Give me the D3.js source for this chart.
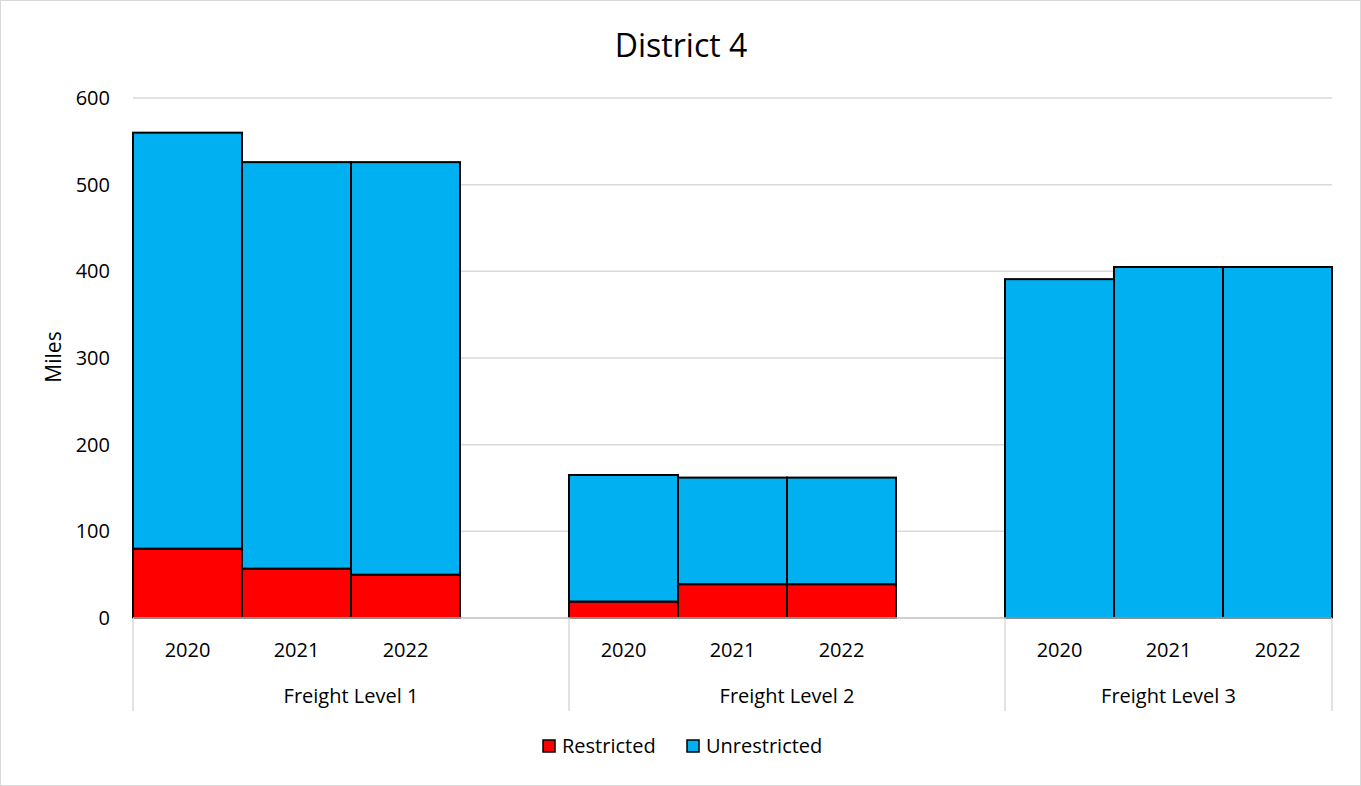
<!DOCTYPE html>
<html>
<head>
<meta charset="utf-8">
<script src="https://cdn.jsdelivr.net/npm/d3@7"></script>
<style>
  body { margin: 0; background: #fff; }
  text { font-family: "Open Sans", Lato, sans-serif; fill: #000; }
</style>
</head>
<body>
<svg width="1361" height="786"></svg>
<script>
const groups = ['Freight Level 1', 'Freight Level 2', 'Freight Level 3'];
const years = ['2020', '2021', '2022'];
const restricted = [[80, 57, 50], [19, 39, 39], [0, 0, 0]];
const unrestricted = [[480, 469, 476], [146, 123, 123], [391, 405, 405]];
const yTicks = [0, 100, 200, 300, 400, 500, 600];
const seriesNames = ['Restricted', 'Unrestricted'];
const colors = ['#ff0000', '#00b0f0'];

const svg = d3.select('svg');
const width = +svg.attr('width');
const height = +svg.attr('height');

svg.append('rect')
    .attr('x', 0.5).attr('y', 0.5)
    .attr('width', width - 1).attr('height', height - 1)
    .attr('fill', '#fff')
    .attr('stroke', '#d9d9d9');

const plotLeft = 133, plotRight = 1332, plotTop = 98, plotBottom = 618;

// slots: three years per group, plus a blank slot between groups
const slots = [];
groups.forEach((g, gi) => {
  years.forEach(yr => slots.push(g + '|' + yr));
  if (gi < groups.length - 1) slots.push(g + '|blank');
});

const x = d3.scaleBand().domain(slots).range([plotLeft, plotRight]).padding(0);
const y = d3.scaleLinear().domain([0, 600]).range([plotBottom, plotTop]);

// gridlines
svg.append('g')
  .selectAll('line')
  .data(yTicks.slice(1))
  .join('line')
    .attr('x1', plotLeft).attr('x2', plotRight)
    .attr('y1', d => y(d)).attr('y2', d => y(d))
    .attr('stroke', '#d9d9d9').attr('stroke-width', 1.5);

// y tick labels
svg.append('g')
  .selectAll('text')
  .data(yTicks)
  .join('text')
    .attr('x', 110)
    .attr('y', d => y(d))
    .attr('dy', '0.35em')
    .attr('text-anchor', 'end')
    .attr('font-size', 20)
    .text(d => d);

// stacked bars
const rows = [];
groups.forEach((g, gi) => {
  years.forEach((yr, yi) => {
    rows.push({ key: g + '|' + yr, r: restricted[gi][yi], u: unrestricted[gi][yi] });
  });
});
const stack = d3.stack().keys(['r', 'u'])(rows);

svg.append('g')
  .selectAll('g')
  .data(stack)
  .join('g')
    .attr('fill', (d, i) => colors[i])
  .selectAll('rect')
  .data(d => d.filter(s => s[1] > s[0]))
  .join('rect')
    .attr('x', d => x(d.data.key))
    .attr('width', x.bandwidth())
    .attr('y', d => y(d[1]))
    .attr('height', d => y(d[0]) - y(d[1]))
    .attr('stroke', '#000')
    .attr('stroke-width', 2);

// x axis line
svg.append('line')
    .attr('x1', plotLeft).attr('x2', plotRight)
    .attr('y1', plotBottom).attr('y2', plotBottom)
    .attr('stroke', '#bfbfbf').attr('stroke-width', 1.5);

// group dividers
const dividers = [plotLeft];
groups.forEach((g, gi) => {
  if (gi < groups.length - 1) dividers.push(x(g + '|blank') + x.bandwidth());
});
dividers.push(plotRight);
svg.append('g')
  .selectAll('line')
  .data(dividers)
  .join('line')
    .attr('x1', d => d).attr('x2', d => d)
    .attr('y1', plotBottom).attr('y2', 711)
    .attr('stroke', '#d9d9d9').attr('stroke-width', 1.5);

// year labels
svg.append('g')
  .selectAll('text')
  .data(rows)
  .join('text')
    .attr('x', d => x(d.key) + x.bandwidth() / 2)
    .attr('y', 657)
    .attr('text-anchor', 'middle')
    .attr('font-size', 20)
    .text(d => d.key.split('|')[1]);

// group labels
svg.append('g')
  .selectAll('text')
  .data(groups)
  .join('text')
    .attr('x', (d, i) => (dividers[i] + dividers[i + 1]) / 2)
    .attr('y', 703)
    .attr('text-anchor', 'middle')
    .attr('font-size', 20)
    .text(d => d);

// title
svg.append('text')
    .attr('x', 681).attr('y', 57)
    .attr('text-anchor', 'middle')
    .attr('font-size', 32)
    .text('District 4');

// y axis title
svg.append('text')
    .attr('transform', 'translate(61, 357) rotate(-90)')
    .attr('text-anchor', 'middle')
    .attr('font-size', 21)
    .text('Miles');

// legend
const legendX = [543, 687];
const legend = svg.append('g')
  .selectAll('g')
  .data(seriesNames)
  .join('g')
    .attr('transform', (d, i) => `translate(${legendX[i]}, 740)`);
legend.append('rect')
    .attr('width', 12).attr('height', 12)
    .attr('fill', (d, i) => colors[i])
    .attr('stroke', '#000').attr('stroke-width', 1.5);
legend.append('text')
    .attr('x', 19).attr('y', 6)
    .attr('dy', '0.35em')
    .attr('font-size', 20)
    .text(d => d);
</script>
</body>
</html>
